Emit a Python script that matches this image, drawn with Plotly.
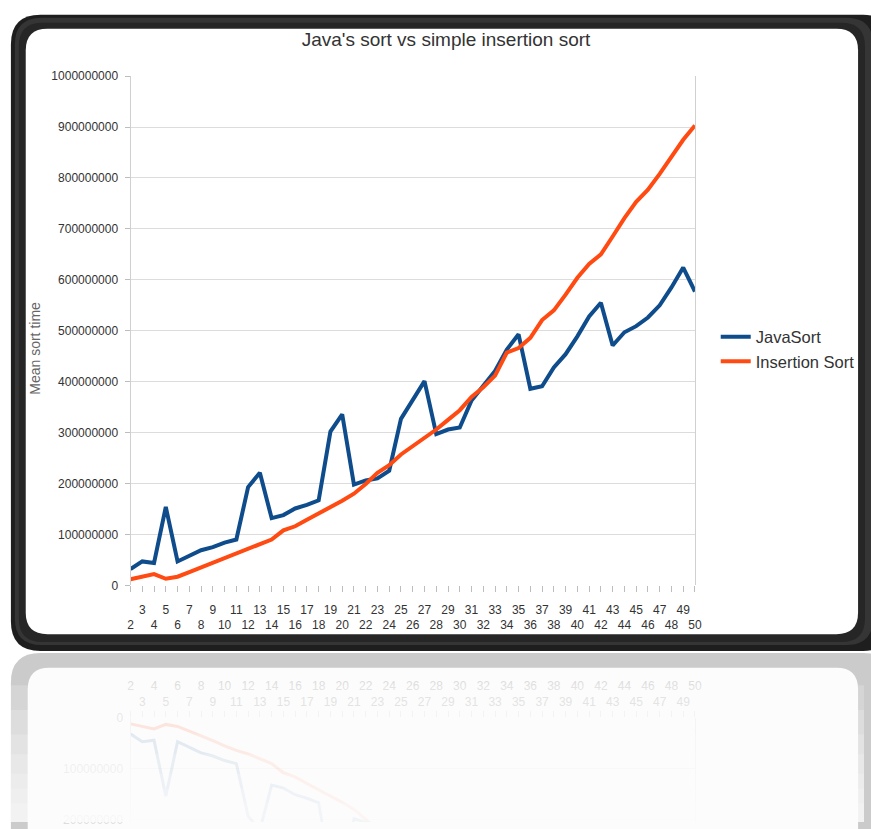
import plotly.graph_objects as go

# ---------------- data ----------------
categories = list(range(2, 51))
java_sort = [32e6, 47e6, 44e6, 154e6, 47e6, 58e6, 69e6, 75e6, 84e6, 90e6,
             193e6, 221e6, 132e6, 138e6, 151e6, 158e6, 167e6, 302e6, 336e6, 198e6,
             206e6, 210e6, 225e6, 327e6, 364e6, 401e6, 297e6, 306e6, 310e6, 363e6,
             392e6, 421e6, 463e6, 493e6, 386e6, 391e6, 428e6, 454e6, 489e6, 528e6,
             555e6, 471e6, 497e6, 509e6, 526e6, 550e6, 585e6, 624e6, 577e6]
insertion_sort = [12e6, 17e6, 22e6, 13e6, 17e6, 26e6, 35e6, 45e6, 55e6, 64e6,
                  71e6, 80e6, 90e6, 108e6, 116e6, 129e6, 141e6, 154e6, 166e6, 180e6,
                  199e6, 221e6, 236e6, 257e6, 273e6, 288e6, 306e6, 325e6, 344e6, 370e6,
                  389e6, 412e6, 457e6, 466e6, 486e6, 521e6, 540e6, 571e6, 604e6, 631e6,
                  650e6, 685e6, 721e6, 753e6, 777e6, 808e6, 840e6, 875e6, 903e6]
series_names = ["JavaSort", "Insertion Sort"]
series_colors = ["#0f4c8c", "#ff4a12"]
y_ticks = [i * 100000000 for i in range(11)]
title_text = "Java's sort vs simple insertion sort"
y_title = "Mean sort time"

W, H = 871, 829


def PX(x):
    return x / W


def PY(y):
    return 1 - y / H


def rrect(x0, y0, x1, y1, r):
    pts = [
        ("M", [(x0 + r, y0)]),
        ("L", [(x1 - r, y0)]),
        ("Q", [(x1, y0), (x1, y0 + r)]),
        ("L", [(x1, y1 - r)]),
        ("Q", [(x1, y1), (x1 - r, y1)]),
        ("L", [(x0 + r, y1)]),
        ("Q", [(x0, y1), (x0, y1 - r)]),
        ("L", [(x0, y0 + r)]),
        ("Q", [(x0, y0), (x0 + r, y0)]),
    ]
    s = ""
    for cmd, ps in pts:
        s += cmd + " " + " ".join(f"{PX(a):.5f},{PY(b):.5f}" for a, b in ps) + " "
    return s + "Z"


fig = go.Figure()

# main traces
for name, vals, col in zip(series_names, [java_sort, insertion_sort], series_colors):
    fig.add_trace(go.Scatter(x=categories, y=vals, mode="lines", name=name,
                             line=dict(color=col, width=4), xaxis="x", yaxis="y"))

# reflection traces
for name, vals, col in zip(series_names, [java_sort, insertion_sort], series_colors):
    fig.add_trace(go.Scatter(x=categories, y=vals, mode="lines", name=name,
                             line=dict(color=col, width=3), opacity=0.2,
                             showlegend=False, hoverinfo="skip",
                             xaxis="x2", yaxis="y2"))

main_ticktext = [(f" <br>{c}" if c % 2 == 0 else f"{c}") for c in categories]
refl_ticktext = [(f"{c}<br> " if c % 2 == 0 else f"{c}") for c in categories]

x0p, x1p = 129, 700
y_top, y_zero = 70.3, 588.3
refl_zero = 723
px_per_unit = (y_zero - y_top) / 1e9
refl_range_max = (H - refl_zero) / px_per_unit

shapes = []
# reflection frame (light)
shapes.append(dict(type="path", path=rrect(8, 657, 900, 900, 30), xref="paper", yref="paper",
                   fillcolor="#cbcbcb", line=dict(width=0), layer="below"))
shapes.append(dict(type="path", path=rrect(25, 672, 865, 900, 22), xref="paper", yref="paper",
                   fillcolor="#fcfcfc", line=dict(width=0), layer="below"))
# main frame
shapes.append(dict(type="path", path=rrect(8, 8, 900, 655, 30), xref="paper", yref="paper",
                   fillcolor="#1e1e1e", line=dict(width=0), layer="below"))
shapes.append(dict(type="path", path=rrect(12, 11, 880, 649, 27), xref="paper", yref="paper",
                   fillcolor="#353535", line=dict(width=0), layer="below"))
shapes.append(dict(type="path", path=rrect(16, 16, 872, 646, 24), xref="paper", yref="paper",
                   fillcolor="#262626", line=dict(width=0), layer="below"))
shapes.append(dict(type="path", path=rrect(23, 22, 865, 638, 22), xref="paper", yref="paper",
                   fillcolor="#ffffff", line=dict(width=0), layer="below"))
# fade of the reflection
for yy in [690, 715, 740, 760, 780, 795, 810]:
    shapes.append(dict(type="rect", xref="paper", yref="paper", x0=0, x1=1,
                       y0=0, y1=PY(yy), fillcolor="white", opacity=0.2,
                       line=dict(width=0), layer="above"))

fig.update_layout(
    width=W, height=H,
    margin=dict(l=0, r=0, t=0, b=0),
    paper_bgcolor="white",
    plot_bgcolor="rgba(0,0,0,0)",
    font=dict(family="Liberation Sans, Arial, sans-serif", color="#333333"),
    title=dict(text=title_text, x=PX(446), xanchor="center", y=PY(39), yanchor="middle",
               font=dict(size=19, color="#333333")),
    showlegend=True,
    legend=dict(x=PX(721), y=PY(318), xanchor="left", yanchor="top",
                bgcolor="rgba(0,0,0,0)", font=dict(size=16.5, color="#333333"),
                itemwidth=30, tracegroupgap=0),
    xaxis=dict(domain=[PX(x0p), PX(x1p)], range=[2, 50], anchor="y",
               tickmode="array", tickvals=categories, ticktext=main_ticktext,
               ticks="outside", ticklen=6, tickcolor="#bdbdbd", tickangle=0,
               showgrid=False, zeroline=False, showline=False,
               tickfont=dict(size=12, color="#333333"), ticklabelstandoff=7),
    yaxis=dict(domain=[PY(y_zero), PY(y_top)], range=[0, 1e9], anchor="x",
               tickmode="array", tickvals=y_ticks, tickformat="d",
               ticks="outside", ticklen=5, tickcolor="#bdbdbd",
               showgrid=True, gridcolor="#dcdcdc", gridwidth=1,
               showline=True, linecolor="#d0d0d0", mirror=True, zeroline=False,
               tickfont=dict(size=12, color="#333333"), ticklabelstandoff=4),
    xaxis2=dict(domain=[PX(x0p), PX(x1p)], range=[2, 50], anchor="y2", side="top",
                tickmode="array", tickvals=categories, ticktext=refl_ticktext,
                ticks="outside", ticklen=6, tickcolor="#eeeeee", tickangle=0,
                showgrid=False, zeroline=False, showline=False,
                tickfont=dict(size=12, color="#dddddd")),
    yaxis2=dict(domain=[0, PY(refl_zero)], range=[refl_range_max, 0], anchor="x2",
                tickmode="array", tickvals=[0, 100000000, 200000000], tickformat="d",
                ticks="", showgrid=True, gridcolor="#f2f2f2",
                showline=True, linecolor="#efefef", mirror=True, zeroline=False,
                tickfont=dict(size=12, color="#dddddd"), ticklabelstandoff=4),
    shapes=shapes,
    annotations=[dict(text=y_title, textangle=-90, x=PX(33), y=PY(347), xref="paper", yref="paper",
                      xanchor="center", yanchor="middle",
                      showarrow=False, font=dict(size=14, color="#666666"))],
)

fig.write_html("out.html")
